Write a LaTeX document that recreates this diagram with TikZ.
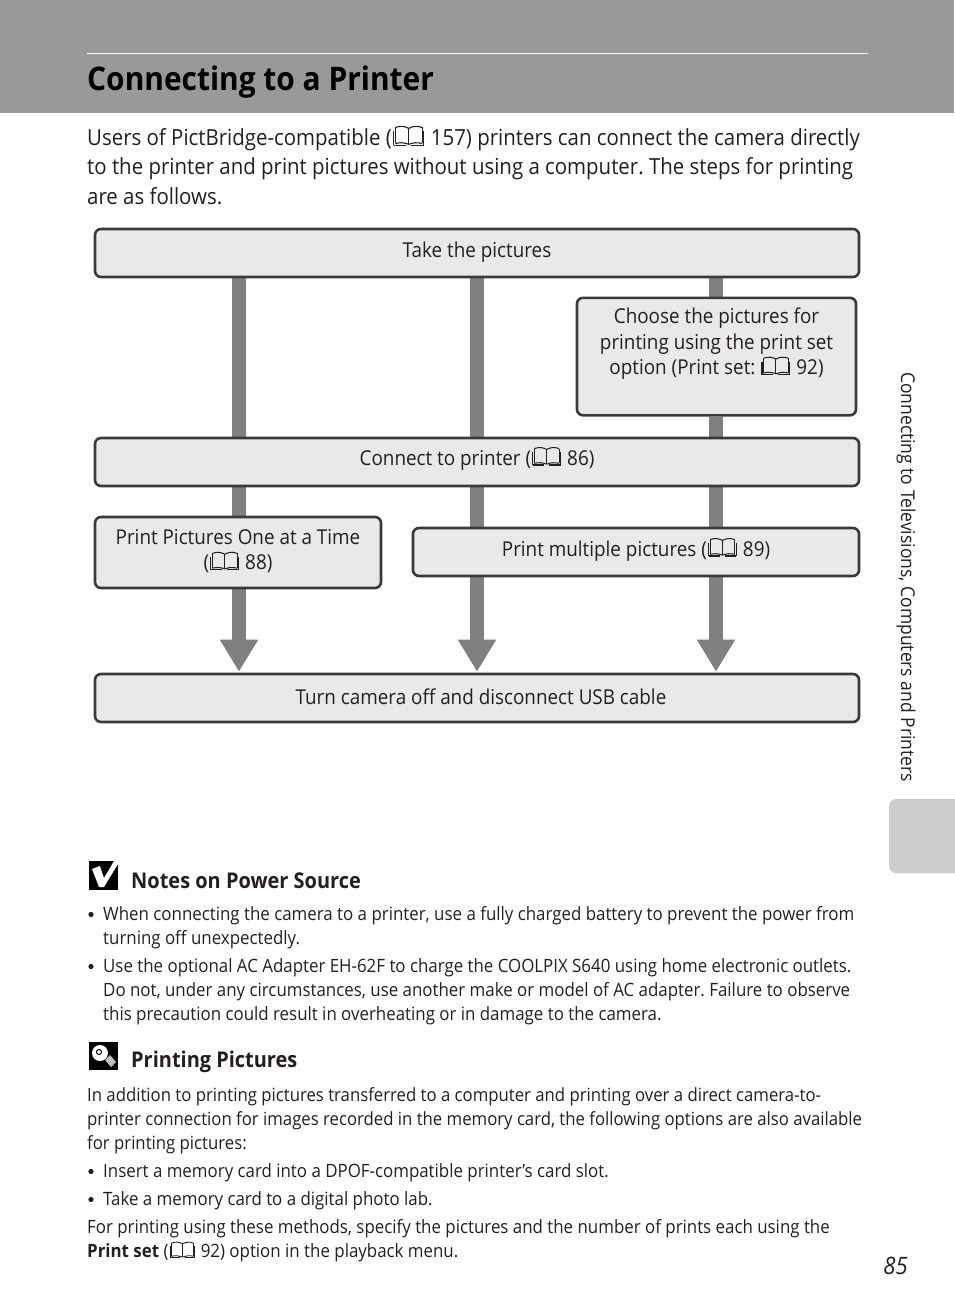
\documentclass[tikz,border=0pt]{standalone}
\usepackage{fontspec}
\usepackage{pict2e}
\usepackage{tikz}
\usetikzlibrary{arrows.meta,backgrounds}
\setmainfont[FakeStretch=0.92]{Open Sans}
\frenchspacing
\definecolor{bandgray}{HTML}{999999}
\definecolor{tabgray}{HTML}{CCCCCC}
\definecolor{boxgray}{HTML}{E9E9E9}
\definecolor{edgegray}{HTML}{3A3A3A}
\definecolor{bargray}{HTML}{808080}
\definecolor{inkgray}{HTML}{231F20}
\newcommand{\bookicon}{\hspace{0.08em}{\unitlength=0.08em\linethickness{0.05em}\begin{picture}(17,11)
\qbezier(1,1)(1,5)(1,10)\qbezier(1,10)(5,11.5)(8.5,9.5)\qbezier(8.5,9.5)(8.5,5)(8.5,0.5)
\qbezier(16,1)(16,5)(16,10)\qbezier(16,10)(12,11.5)(8.5,9.5)
\qbezier(1,1)(5,2)(8.5,0.5)\qbezier(16,1)(12,2)(8.5,0.5)
\qbezier(0,0)(4,0)(7,0)\qbezier(17,0)(13,0)(10,0)\qbezier(0,0)(0,4)(0,8)\qbezier(17,0)(17,4)(17,8)
\end{picture}}\hspace{0.08em}}
\newcommand{\setsize}[2]{\fontsize{#1}{#2}\selectfont}

\begin{document}
\begin{tikzpicture}[x=1pt, y=-1pt, text=inkgray]
    \tikzstyle{block} = [rectangle, draw=edgegray, fill=boxgray, line width=2.6pt, rounded corners=6pt, inner sep=0pt, align=center, font=\setsize{20.5}{25.5}]
    \tikzstyle{wideblock} = [block, minimum width=764pt, minimum height=48pt]
    \tikzstyle{line} = [draw=bargray, line width=14pt]
    \tikzstyle{lineend} = [line, -{Triangle[width=36pt, length=32pt]}, shorten >=1pt]
    \tikzstyle{bodytext} = [anchor=north west, inner sep=0pt, align=left, font=\setsize{18.35}{24}]
    \tikzstyle{headtext} = [anchor=west, inner sep=0pt, font=\setsize{21.7}{24}\bfseries]

    \useasboundingbox (0,0) rectangle (954,1314);

    \fill [bandgray] (0,0) rectangle (954,113);
    \draw [white, line width=0.8pt] (87,53) -- (868,53);
    \fill [tabgray, rounded corners=7pt] (889,799) -- (889,873) -- (970,873) -- (970,799) -- cycle;

    \node [anchor=base west, inner sep=0pt, font=\setsize{32.5}{34}\bfseries, text=black] (title) at (87,90) {Connecting to a Printer};
    \node [bodytext, font=\setsize{22.2}{29.5}] (intro) at (87,125.5) {Users of PictBridge-compatible (\bookicon{} 157) printers can connect the camera directly\\to the printer and print pictures without using a computer. The steps for printing\\are as follows.};

    \coordinate (colA) at (239,0);
    \coordinate (colB) at (477,0);
    \coordinate (colC) at (716,0);

    \node [wideblock, text height=14pt, text depth=6pt] (take) at (477,253) {Take the pictures};
    \node [block, minimum width=279pt, minimum height=117.5pt, anchor=north] (choose) at (716.5,296.5) {\rule{0pt}{14pt}Choose the pictures for\\printing using the print set\\option (Print set: \bookicon{} 92)\\[5pt]};
    \node [wideblock, text height=14pt, text depth=8pt] (connect) at (477,462) {Connect to printer (\bookicon{} 86)};
    \node [block, minimum width=286pt, minimum height=71pt] (single) at (238,552.5) {Print Pictures One at a Time\\(\bookicon{} 88)\rule[-6pt]{0pt}{6pt}};
    \node [block, minimum width=446pt, minimum height=48pt, text height=14pt, text depth=6pt] (multi) at (636,552) {Print multiple pictures (\bookicon{} 89)};
    \node [wideblock, text height=14pt, text depth=2pt] (finish) at (477,698) {\hspace{8pt}Turn camera off and disconnect USB cable};

    \begin{scope}[on background layer]
        \path [line] (take.south -| colA) -- (connect.north -| colA);
        \path [line] (take.south -| colB) -- (connect.north -| colB);
        \path [line] (take.south -| colC) -- (choose.north -| colC);
        \path [line] (choose.south -| colC) -- (connect.north -| colC);
        \path [line] (connect.south -| colA) -- (single.north -| colA);
        \path [line] (connect.south -| colB) -- (multi.north -| colB);
        \path [line] (connect.south -| colC) -- (multi.north -| colC);
        \path [lineend] (single.south -| colA) -- (finish.north -| colA);
        \path [lineend] (multi.south -| colB) -- (finish.north -| colB);
        \path [lineend] (multi.south -| colC) -- (finish.north -| colC);
    \end{scope}

    \node [rotate=-90, inner sep=0pt, font=\setsize{19}{20}] (chapter) at (906,577) {Connecting to Televisions, Computers and Printers};

    \fill [black] (89,861) rectangle (118,890);
    \fill [white] (92,869) -- (100,866) -- (104,878) -- (114,861) -- (118,861) -- (118,864) -- (104,887) -- (99,887) -- cycle;
    \node [headtext] (notes) at (131,881) {Notes on Power Source};
    \node [bodytext] (noteA) at (103,906.5) {When connecting the camera to a printer, use a fully charged battery to prevent the power from\\turning off unexpectedly.};
    \node [bodytext] (noteB) at (103,958.5) {Use the optional AC Adapter EH-62F to charge the COOLPIX S640 using home electronic outlets.\\Do not, under any circumstances, use another make or model of AC adapter. Failure to observe\\this precaution could result in overheating or in damage to the camera.};
    \fill [inkgray] (91,914.5) circle (2.6pt) (91,966.5) circle (2.6pt);

    \fill [black] (89,1042) rectangle (118,1070);
    \fill [white] (100,1053) circle (8pt);
    \draw [black, line width=1pt] (99,1052) circle (2.5pt);
    \fill [white!75!black] (105,1060) -- (110,1055) -- (116,1062) -- (111,1067) -- cycle;
    \node [headtext] (tips) at (131,1062) {Printing Pictures};
    \node [bodytext, font=\setsize{18.2}{24}] (tipsA) at (87,1087) {In addition to printing pictures transferred to a computer and printing over a direct camera-to-\\printer connection for images recorded in the memory card, the following options are also available\\for printing pictures:};
    \node [bodytext] (tipsB) at (103,1163.5) {Insert a memory card into a DPOF-compatible printer’s card slot.};
    \node [bodytext] (tipsC) at (103,1191.5) {Take a memory card to a digital photo lab.};
    \fill [inkgray] (91,1171.5) circle (2.6pt) (91,1199.5) circle (2.6pt);
    \node [bodytext] (tipsD) at (87,1219.5) {For printing using these methods, specify the pictures and the number of prints each using the\\\textbf{Print set} (\bookicon{} 92) option in the playback menu.};

    \node [anchor=base east, inner sep=0pt, font=\setsize{24}{26}\itshape] (pageno) at (908,1274) {85};
\end{tikzpicture}
\end{document}
